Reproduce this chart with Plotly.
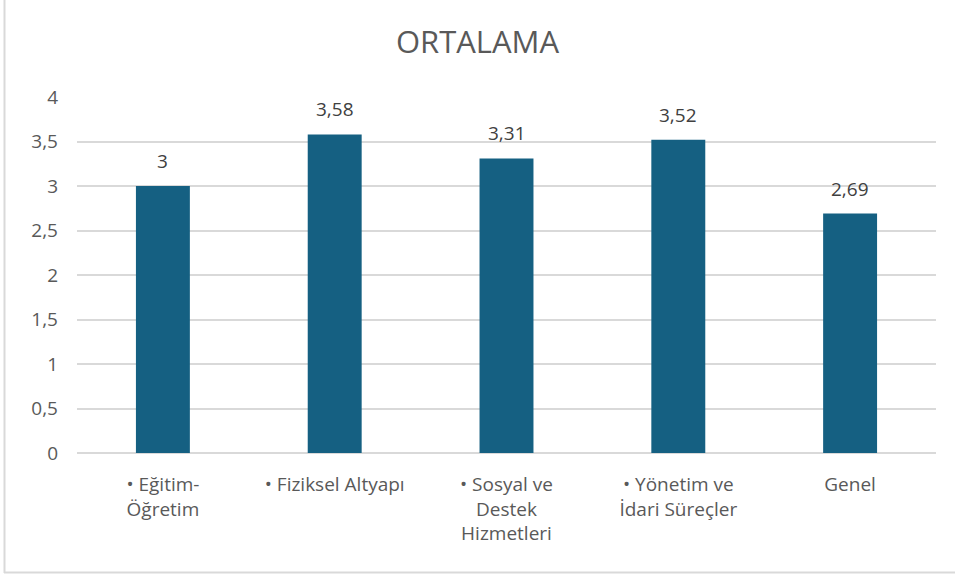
import plotly.graph_objects as go

categories = ["• Eğitim-<br>Öğretim", "• Fiziksel Altyapı", "• Sosyal ve<br>Destek<br>Hizmetleri",
              "• Yönetim ve<br>İdari Süreçler", "Genel"]
values = [3, 3.58, 3.31, 3.52, 2.69]
tick_vals = [0, 0.5, 1, 1.5, 2, 2.5, 3, 3.5, 4]

W, H = 955, 577
L, R, T, B = 77, 19, 97, 124
pw, ph = W - L - R, H - T - B

fig = go.Figure(go.Bar(
    x=categories, y=values,
    marker=dict(color="#156082", line=dict(width=0)),
    hoverinfo="x+y",
))

for c, v in zip(categories, values):
    fig.add_annotation(x=c, y=v, text=str(v).replace(".", ","), showarrow=False,
                       yanchor="middle", yshift=25, font=dict(size=19, color="#404040"))

def px_x(p):
    return (p - L) / pw

def px_y(p):
    return (H - B - p) / ph

fig.update_layout(
    width=W, height=H,
    margin=dict(l=L, r=R, t=T, b=B),
    paper_bgcolor="white", plot_bgcolor="white",
    separators=",.",
    font=dict(family="Open Sans, Lato, sans-serif", color="#595959", size=19),
    title=dict(text="ORTALAMA", x=0.5, xanchor="center", y=1 - 42 / H, yanchor="middle",
               font=dict(size=31, color="#595959")),
    bargap=0.686,
    showlegend=False,
    xaxis=dict(showgrid=False, showline=False, ticks="", tickfont=dict(size=19, color="#595959"),
               ticklabelstandoff=18),
    yaxis=dict(range=[0, 4], tickvals=tick_vals, showgrid=True, gridcolor="#D9D9D9", gridwidth=1.5,
               zeroline=True, zerolinecolor="#D9D9D9", zerolinewidth=1.5,
               ticks="", ticklen=0, tickfont=dict(size=19, color="#595959"), ticklabelstandoff=18),
    shapes=[
        dict(type="line", xref="paper", yref="paper", x0=px_x(4.5), x1=px_x(4.5), y0=px_y(573), y1=px_y(-5),
             line=dict(color="#D9D9D9", width=2)),
        dict(type="line", xref="paper", yref="paper", x0=px_x(4), x1=px_x(960), y0=px_y(572.5), y1=px_y(572.5),
             line=dict(color="#D9D9D9", width=2)),
    ],
)

fig.write_html("out.html", config={"displayModeBar": False},
               post_script="document.body.style.margin='0';document.body.style.overflow='hidden';")
